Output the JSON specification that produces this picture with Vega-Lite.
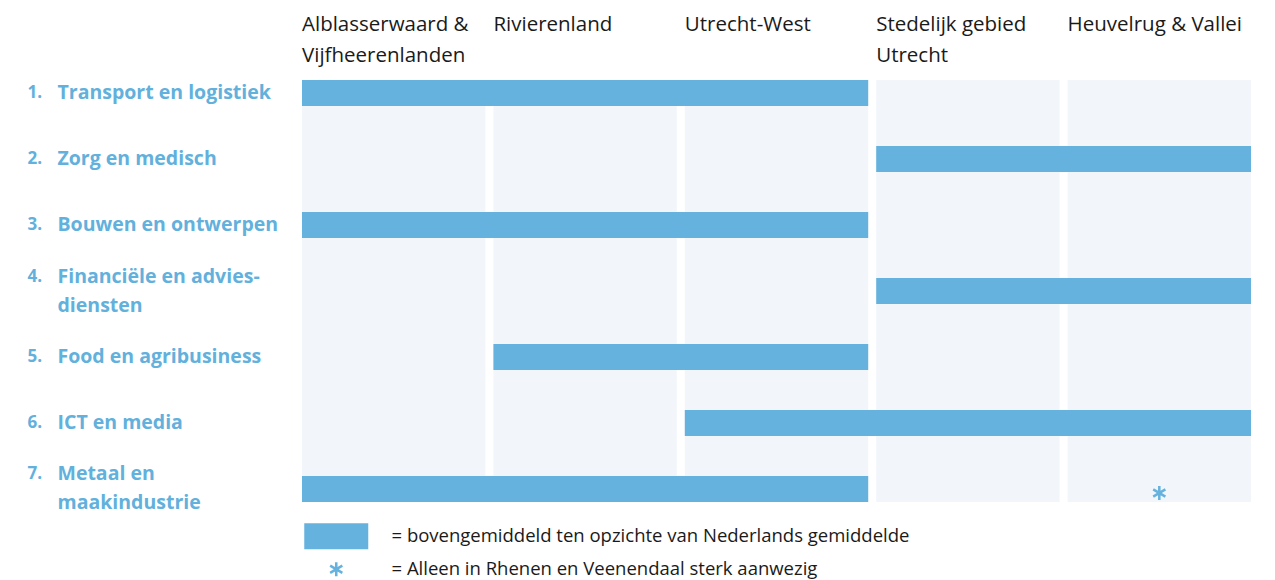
{
  "$schema": "https://vega.github.io/schema/vega-lite/v6.json",
  "width": 949,
  "height": 422,
  "autosize": {"type": "none"},
  "padding": {"left": 302, "top": 80, "right": 24, "bottom": 78},
  "background": "white",
  "config": {"view": {"stroke": null}, "font": "Open Sans"},
  "datasets": {
    "regions": [
      {"region": "Alblasserwaard &|Vijfheerenlanden"},
      {"region": "Rivierenland"},
      {"region": "Utrecht-West"},
      {"region": "Stedelijk gebied|Utrecht"},
      {"region": "Heuvelrug & Vallei"}
    ],
    "bars": [
      {"sector": "1.|Transport en logistiek", "from": "Alblasserwaard &|Vijfheerenlanden", "to": "Utrecht-West"},
      {"sector": "2.|Zorg en medisch", "from": "Stedelijk gebied|Utrecht", "to": "Heuvelrug & Vallei"},
      {"sector": "3.|Bouwen en ontwerpen", "from": "Alblasserwaard &|Vijfheerenlanden", "to": "Utrecht-West"},
      {"sector": "4.|Financiële en advies-|diensten", "from": "Stedelijk gebied|Utrecht", "to": "Heuvelrug & Vallei"},
      {"sector": "5.|Food en agribusiness", "from": "Rivierenland", "to": "Utrecht-West"},
      {"sector": "6.|ICT en media", "from": "Utrecht-West", "to": "Heuvelrug & Vallei"},
      {"sector": "7.|Metaal en|maakindustrie", "from": "Alblasserwaard &|Vijfheerenlanden", "to": "Utrecht-West"}
    ],
    "star": [
      {"sector": "7.|Metaal en|maakindustrie", "region": "Heuvelrug & Vallei", "legend": "= Alleen in Rhenen en Veenendaal sterk aanwezig"}
    ]
  },
  "layer": [
    {
      "data": {"name": "regions"},
      "mark": {"type": "rect", "color": "#f2f6fb"},
      "encoding": {
        "x": {
          "field": "region",
          "type": "nominal",
          "sort": null,
          "scale": {
            "domain": ["Alblasserwaard &|Vijfheerenlanden", "Rivierenland", "Utrecht-West", "Stedelijk gebied|Utrecht", "Heuvelrug & Vallei"],
            "paddingInner": 0.0418,
            "paddingOuter": 0
          },
          "axis": {
            "orient": "top",
            "labelAlign": "left",
            "labelAngle": 0,
            "labelBaseline": "bottom",
            "labelOffset": -91.7,
            "labelExpr": "split(datum.label, '|')",
            "labelFont": "Open Sans",
            "labelFontSize": 20.5,
            "labelColor": "#1a1a1a",
            "labelPadding": 46,
            "labelLineHeight": 31,
            "labelLimit": 400,
            "labelOverlap": false,
            "labelFlush": false,
            "labelBound": false,
            "ticks": false,
            "domain": false,
            "grid": false,
            "title": null
          }
        }
      }
    },
    {
      "data": {"name": "bars"},
      "mark": {"type": "rect", "color": "#66b2df"},
      "encoding": {
        "x": {"field": "from", "type": "nominal", "bandPosition": 0, "axis": null},
        "x2": {"field": "to", "bandPosition": 1},
        "y": {
          "field": "sector",
          "type": "nominal",
          "sort": null,
          "scale": {
            "domain": ["1.|Transport en logistiek", "2.|Zorg en medisch", "3.|Bouwen en ontwerpen", "4.|Financiële en advies-|diensten", "5.|Food en agribusiness", "6.|ICT en media", "7.|Metaal en|maakindustrie"],
            "paddingInner": 0.606,
            "paddingOuter": 0
          },
          "axis": {
            "orient": "left",
            "labelAlign": "left",
            "labelBaseline": "middle",
            "labelPadding": 245,
            "labelOffset": {"condition": {"test": "length(split(datum.value, '|')) > 2", "value": -14.5}, "value": 0},
            "labelExpr": "slice(split(datum.label, '|'), 1)",
            "labelFont": "Open Sans",
            "labelFontWeight": "bold",
            "labelFontSize": 19.5,
            "labelColor": "#62b0dc",
            "labelLineHeight": 29,
            "labelLimit": 400,
            "labelOverlap": false,
            "ticks": false,
            "domain": false,
            "grid": false,
            "title": null
          }
        }
      }
    },
    {
      "data": {"name": "star"},
      "mark": {"type": "point", "filled": true, "opacity": 1, "size": 100, "strokeWidth": 0, "yOffset": 4},
      "encoding": {
        "x": {"field": "region", "type": "nominal", "axis": null},
        "y": {
          "field": "sector",
          "type": "nominal",
          "sort": null,
          "axis": {
            "orient": "left",
            "labelAlign": "left",
            "labelBaseline": "middle",
            "labelPadding": 275,
            "labelOffset": {"condition": {"test": "length(split(datum.value, '|')) > 2", "value": -14.5}, "value": 0},
            "labelExpr": "split(datum.label, '|')[0]",
            "labelFont": "Open Sans",
            "labelFontWeight": "bold",
            "labelFontSize": 17,
            "labelColor": "#62b0dc",
            "labelOverlap": false,
            "ticks": false,
            "domain": false,
            "grid": false,
            "title": null
          }
        },
        "color": {
          "field": "legend",
          "type": "nominal",
          "scale": {
            "domain": ["= bovengemiddeld ten opzichte van Nederlands gemiddelde", "= Alleen in Rhenen en Veenendaal sterk aanwezig"],
            "range": ["#66b2df", "#66b2df"]
          },
          "legend": {
            "orient": "none",
            "legendX": 25,
            "legendY": 447,
            "title": null,
            "direction": "vertical",
            "symbolSize": 100,
            "symbolStrokeWidth": 0,
            "labelOffset": 46,
            "rowPadding": 10,
            "labelFont": "Open Sans",
            "labelFontSize": 18.5,
            "labelColor": "#1a1a1a",
            "labelLimit": 800,
            "padding": 0
          }
        },
        "shape": {
          "field": "legend",
          "type": "nominal",
          "scale": {
            "domain": ["= bovengemiddeld ten opzichte van Nederlands gemiddelde", "= Alleen in Rhenen en Veenendaal sterk aanwezig"],
            "range": [
              "M-6.4,-2.6H6.4V2.6H-6.4Z",
              "M-0.256,-1.408H0.256V1.408H-0.256Z M1.0912,0.9254L-1.3472,-0.4826L-1.0912,-0.9254L1.3472,0.4826Z M1.3472,-0.4826L-1.0912,0.9254L-1.3472,0.4826L1.0912,-0.9254Z"
            ]
          },
          "legend": {
            "orient": "none",
            "legendX": 25,
            "legendY": 447,
            "title": null,
            "direction": "vertical",
            "symbolSize": 100,
            "symbolStrokeWidth": 0,
            "labelOffset": 46,
            "rowPadding": 10,
            "labelFont": "Open Sans",
            "labelFontSize": 18.5,
            "labelColor": "#1a1a1a",
            "labelLimit": 800,
            "padding": 0
          }
        }
      }
    }
  ],
  "resolve": {"axis": {"x": "independent", "y": "independent"}}
}
